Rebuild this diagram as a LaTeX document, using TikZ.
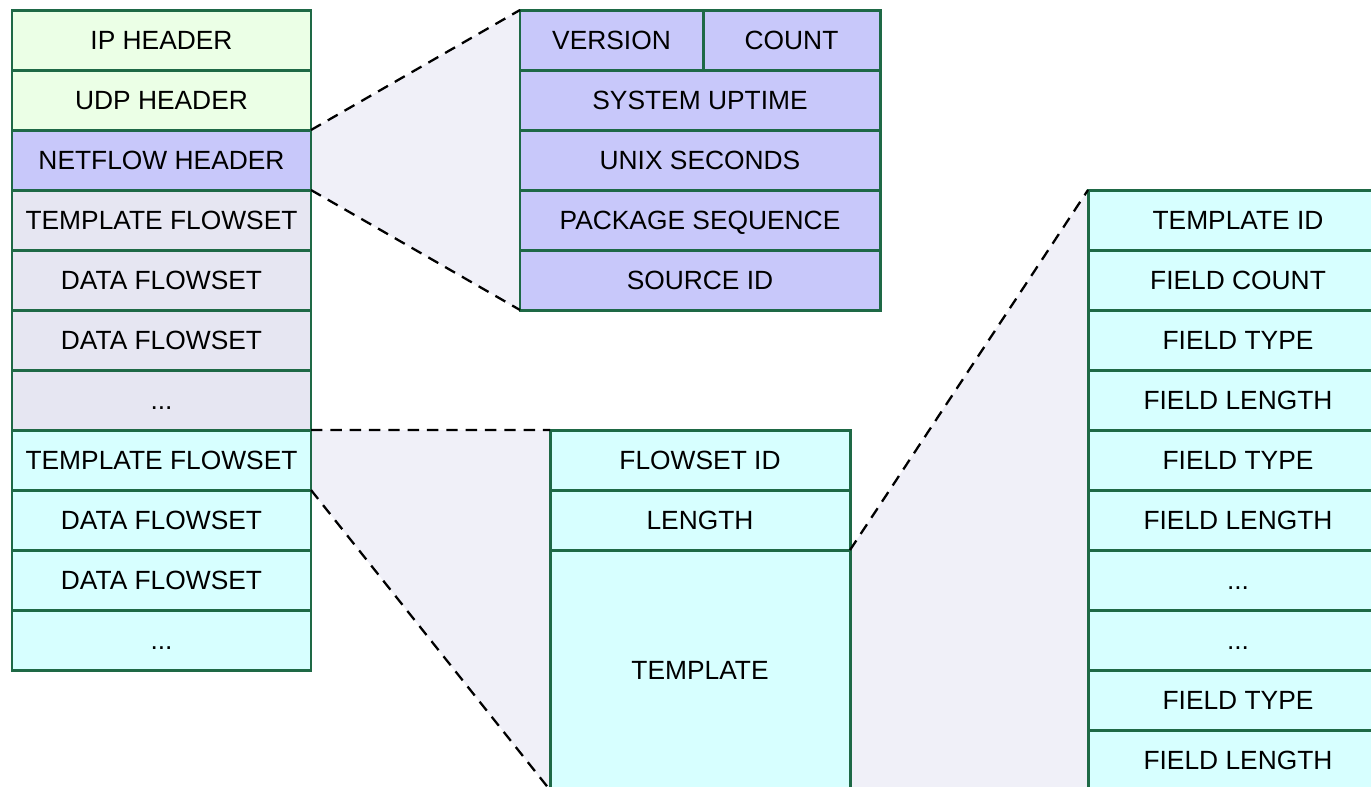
\documentclass[tikz,border=0pt]{standalone}
\usepackage{fontspec}
\setmainfont{Liberation Sans}
\usetikzlibrary{positioning,backgrounds}

\definecolor{frame}{RGB}{30,105,70}
\definecolor{ipgreen}{RGB}{235,255,230}
\definecolor{nfblue}{RGB}{200,200,250}
\definecolor{setgrey}{RGB}{230,230,242}
\definecolor{setcyan}{RGB}{215,255,255}
\definecolor{funnel}{RGB}{240,240,248}

\begin{document}
\begin{tikzpicture}[node distance=0pt,
    cell/.style={rectangle,draw=frame,line width=1.7pt,outer sep=0pt,inner xsep=1pt,
                 minimum height=1.2cm,text height=10.7pt,text depth=0pt,
                 font=\fontsize{15}{18}\selectfont},
    left cell/.style={cell,minimum width=5.98cm},
    hdr cell/.style={cell,fill=nfblue,minimum width=7.2cm},
    set cell/.style={cell,fill=setcyan,minimum width=6cm},
    zoom line/.style={draw=black,line width=1.3pt,dash pattern=on 6.5pt off 4.5pt},
    zoom area/.style={fill=funnel}]

  \useasboundingbox (0,0) rectangle (27.42,-15.72);

  % packet
  \node[left cell,fill=ipgreen,anchor=north west] (ip) at (0.24,-0.2) {IP HEADER};
  \node[left cell,fill=ipgreen] (udp) [below=of ip] {UDP HEADER};
  \node[left cell,fill=nfblue] (nf) [below=of udp] {NETFLOW HEADER};
  \node[left cell,fill=setgrey] (tfs1) [below=of nf] {TEMPLATE FLOWSET};
  \node[left cell,fill=setgrey] (dfs1) [below=of tfs1] {DATA FLOWSET};
  \node[left cell,fill=setgrey] (dfs2) [below=of dfs1] {DATA FLOWSET};
  \node[left cell,fill=setgrey] (more1) [below=of dfs2] {...};
  \node[left cell,fill=setcyan] (tfs2) [below=of more1] {TEMPLATE FLOWSET};
  \node[left cell,fill=setcyan] (dfs3) [below=of tfs2] {DATA FLOWSET};
  \node[left cell,fill=setcyan] (dfs4) [below=of dfs3] {DATA FLOWSET};
  \node[left cell,fill=setcyan] (more2) [below=of dfs4] {...};

  % netflow header
  \node[cell,fill=nfblue,minimum width=3.66cm,anchor=north west] (ver) at (10.4,-0.2) {VERSION};
  \node[cell,fill=nfblue,minimum width=3.54cm] (cnt) [right=of ver] {COUNT};
  \node[hdr cell,anchor=north west] (up) at (ver.south west) {SYSTEM UPTIME};
  \node[hdr cell] (unix) [below=of up] {UNIX SECONDS};
  \node[hdr cell] (seq) [below=of unix] {PACKAGE SEQUENCE};
  \node[hdr cell] (src) [below=of seq] {SOURCE ID};

  % template flowset
  \node[set cell,anchor=north west] (fsid) at (11,-8.6) {FLOWSET ID};
  \node[set cell] (len) [below=of fsid] {LENGTH};
  \node[set cell,minimum height=4.8cm] (tpl) [below=of len] {TEMPLATE};

  % template
  \node[set cell,anchor=north west] (tid) at (21.76,-3.8) {TEMPLATE ID};
  \node[set cell] (fcnt) [below=of tid] {FIELD COUNT};
  \node[set cell] (ft1) [below=of fcnt] {FIELD TYPE};
  \node[set cell] (fl1) [below=of ft1] {FIELD LENGTH};
  \node[set cell] (ft2) [below=of fl1] {FIELD TYPE};
  \node[set cell] (fl2) [below=of ft2] {FIELD LENGTH};
  \node[set cell] (more3) [below=of fl2] {...};
  \node[set cell] (more4) [below=of more3] {...};
  \node[set cell] (ft3) [below=of more4] {FIELD TYPE};
  \node[set cell] (fl3) [below=of ft3] {FIELD LENGTH};

  \begin{scope}[on background layer]
    \fill[zoom area] (nf.north east) -- (ver.north west) -- (src.south west) -- (nf.south east) -- cycle;
    \fill[zoom area] (tfs2.north east) -- (fsid.north west) -- (tpl.south west) -- (tfs2.south east) -- cycle;
    \fill[zoom area] (len.south east) -- (tid.north west) -- (fl3.south west) -- (tpl.south east) -- cycle;
  \end{scope}

  \path[zoom line]
    (nf.north east) -- (ver.north west)
    (nf.south east) -- (src.south west)
    (tfs2.north east) -- (fsid.north west)
    (tfs2.south east) -- (tpl.south west)
    (len.south east) -- (tid.north west);
\end{tikzpicture}
\end{document}
